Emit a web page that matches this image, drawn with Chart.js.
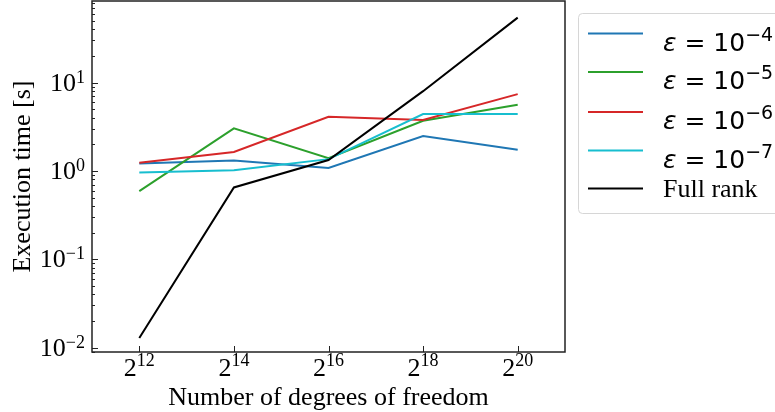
<!DOCTYPE html>
<html>
<head>
<meta charset="utf-8">
<script src="https://cdn.jsdelivr.net/npm/chart.js@4.4.0/dist/chart.umd.min.js"></script>
<style>
  html, body { margin: 0; padding: 0; background: #fff; }
  canvas { display: block; }
</style>
</head>
<body>
<canvas id="myChart" width="775" height="412"></canvas>
<script>
"use strict";

// x positions are log2 of the number of degrees of freedom
const dofExponents = [12, 14, 16, 18, 20];
const eps4 = [1.21, 1.31, 1.08, 2.49, 1.74];
const eps5 = [0.59, 3.03, 1.39, 3.70, 5.61];
const eps6 = [1.24, 1.64, 4.11, 3.77, 7.41];
const eps7 = [0.96, 1.02, 1.36, 4.41, 4.41];
const fullRank = [0.0128, 0.65, 1.33, 8.0, 54.4];

const xTickExponents = [12, 14, 16, 18, 20];
const yTickExponents = [-2, -1, 0, 1];
const legendExponents = ['−4', '−5', '−6', '−7'];
const fullRankLabel = 'Full rank';

const colors = ['#1f77b4', '#2ca02c', '#d62728', '#17becf', '#000000'];
const SERIF = '"Liberation Serif", "Times New Roman", serif';
const SANS = '"DejaVu Sans", sans-serif';

const series = [eps4, eps5, eps6, eps7, fullRank];
const labels = legendExponents.map(e => 'ε = 10^' + e).concat([fullRankLabel]);

// base text + superscript, aligned by x anchor
function drawPower(ctx, base, sup, x, y, align, baseFont, supFont, raise) {
  ctx.font = baseFont;
  const wb = ctx.measureText(base).width;
  ctx.font = supFont;
  const ws = ctx.measureText(sup).width;
  let left = x;
  if (align === 'right') left = x - wb - ws;
  else if (align === 'center') left = x - (wb + ws) / 2;
  ctx.textAlign = 'left';
  ctx.textBaseline = 'alphabetic';
  ctx.font = baseFont;
  ctx.fillText(base, left, y);
  ctx.font = supFont;
  ctx.fillText(sup, left + wb, y - raise);
}

const axesPlugin = {
  id: 'mplAxes',
  afterDraw(chart) {
    const ctx = chart.ctx;
    const a = chart.chartArea;
    const xs = chart.scales.x, ys = chart.scales.y;
    ctx.save();
    ctx.fillStyle = '#000';
    ctx.strokeStyle = '#222';

    // inward ticks
    ctx.lineWidth = 1;
    ctx.beginPath();
    xTickExponents.forEach(e => {
      const px = Math.round(xs.getPixelForValue(e)) + 0.5;
      ctx.moveTo(px, a.bottom);
      ctx.lineTo(px, a.bottom - 6);
    });
    for (let e = -3; e <= 2; e++) {
      for (let m = 1; m <= 9; m++) {
        const v = m * Math.pow(10, e);
        if (v < ys.min || v > ys.max) continue;
        const py = Math.round(ys.getPixelForValue(v)) + 0.5;
        ctx.moveTo(a.left, py);
        ctx.lineTo(a.left + (m === 1 ? 6 : 3), py);
      }
    }
    ctx.stroke();

    // frame
    ctx.lineWidth = 1.5;
    ctx.strokeRect(a.left, a.top, a.right - a.left, a.bottom - a.top);

    // tick labels
    xTickExponents.forEach(e => {
      drawPower(ctx, '2', String(e), xs.getPixelForValue(e), 376, 'center',
        '26px ' + SERIF, '18px ' + SERIF, 10);
    });
    yTickExponents.forEach(e => {
      const label = e < 0 ? '−' + Math.abs(e) : String(e);
      drawPower(ctx, '10', label, a.left - 7, ys.getPixelForValue(Math.pow(10, e)) + 8, 'right',
        '26px ' + SERIF, '18px ' + SERIF, 8);
    });

    // axis titles
    ctx.font = '26px ' + SERIF;
    ctx.textAlign = 'center';
    ctx.textBaseline = 'alphabetic';
    ctx.fillText('Number of degrees of freedom', (a.left + a.right) / 2, 405);
    ctx.save();
    ctx.translate(30, (a.top + a.bottom) / 2);
    ctx.rotate(-Math.PI / 2);
    ctx.fillText('Execution time [s]', 0, 0);
    ctx.restore();

    // legend
    const bx = 578.5, by = 13.5, bw = 220, bh = 200, r = 4;
    ctx.beginPath();
    ctx.moveTo(bx + r, by);
    ctx.lineTo(bx + bw, by);
    ctx.lineTo(bx + bw, by + bh);
    ctx.lineTo(bx + r, by + bh);
    ctx.arcTo(bx, by + bh, bx, by + bh - r, r);
    ctx.lineTo(bx, by + r);
    ctx.arcTo(bx, by, bx + r, by, r);
    ctx.closePath();
    ctx.fillStyle = 'rgba(255,255,255,0.8)';
    ctx.fill();
    ctx.strokeStyle = '#d6d6d6';
    ctx.lineWidth = 1;
    ctx.stroke();

    const rowY = [33.5, 72, 112, 150.5, 188.5];
    series.forEach((s, i) => {
      const y = rowY[i];
      ctx.strokeStyle = colors[i];
      ctx.lineWidth = 2;
      ctx.beginPath();
      ctx.moveTo(588, y);
      ctx.lineTo(643, y);
      ctx.stroke();
      ctx.fillStyle = '#000';
      if (i < legendExponents.length) {
        ctx.font = 'oblique 25px ' + SANS;
        ctx.textAlign = 'left';
        ctx.fillText('ε', 663, y + 17);
        const we = ctx.measureText('ε').width;
        ctx.font = '25px ' + SANS;
        const weq = ctx.measureText(' = ').width;
        ctx.fillText(' = ', 663 + we, y + 17);
        drawPower(ctx, '10', legendExponents[i], 663 + we + weq, y + 17, 'left',
          '25px ' + SANS, '19px ' + SANS, 10);
      } else {
        ctx.font = '26px ' + SERIF;
        ctx.textAlign = 'left';
        ctx.fillText(fullRankLabel, 663, y + 8);
      }
    });
    ctx.restore();
  }
};

const ctx = document.getElementById('myChart').getContext('2d');
const myChart = new Chart(ctx, {
  type: 'line',
  data: {
    datasets: series.map((s, i) => ({
      label: labels[i],
      data: s.map((v, j) => ({ x: dofExponents[j], y: v })),
      borderColor: colors[i],
      backgroundColor: colors[i],
      borderWidth: 2,
      pointRadius: 0,
      tension: 0,
      fill: false,
      order: series.length - i
    }))
  },
  options: {
    responsive: false,
    animation: false,
    layout: { padding: { top: 1, right: 210, left: 0, bottom: 0 } },
    plugins: {
      legend: { display: false },
      tooltip: { enabled: false }
    },
    scales: {
      x: {
        type: 'linear',
        min: 11,
        max: 21,
        grid: { display: false },
        border: { display: false },
        ticks: { display: false },
        afterFit: (scale) => { scale.height = 60; }
      },
      y: {
        type: 'logarithmic',
        min: 0.0089,
        max: 84,
        grid: { display: false },
        border: { display: false },
        ticks: { display: false },
        afterFit: (scale) => { scale.width = 92; }
      }
    }
  },
  plugins: [axesPlugin]
});
</script>
</body>
</html>
